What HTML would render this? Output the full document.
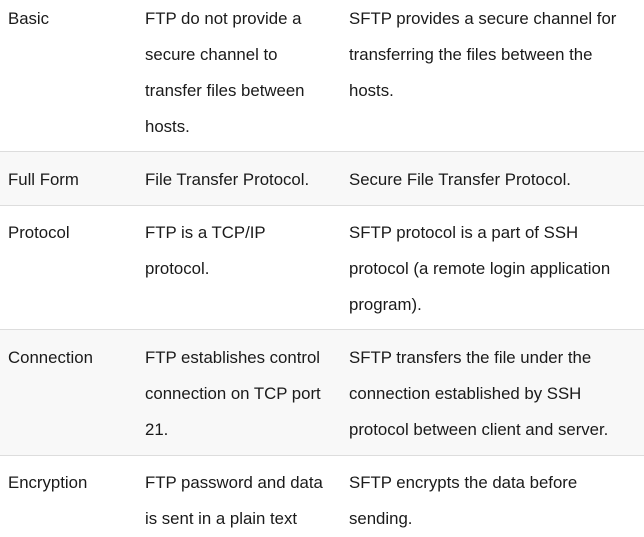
<!DOCTYPE html>
<html><head><meta charset="utf-8"><style>
body{margin:0;width:644px;height:529px;overflow:hidden;background:#fff;font-family:"Liberation Sans",sans-serif;font-size:16.8px;color:#1a1a1a;position:relative}
.row{position:absolute;left:0;width:644px}
.g{background:#f8f8f8}
.b{border-top:1px solid #ddd}
.c{position:absolute;line-height:36px;white-space:nowrap}
.c1{left:8px}.c2{left:145px}.c3{left:349px}
</style></head><body>
<div class="row" style="top:0;height:151px">
<div class="c c1" style="top:1px">Basic</div>
<div class="c c2" style="top:1px">FTP do not provide a<br>secure channel to<br>transfer files between<br>hosts.</div>
<div class="c c3" style="top:1px">SFTP provides a secure channel for<br>transferring the files between the<br>hosts.</div>
</div>
<div class="row g b" style="top:151px;height:54px">
<div class="c c1" style="top:10px">Full Form</div>
<div class="c c2" style="top:10px">File Transfer Protocol.</div>
<div class="c c3" style="top:10px">Secure File Transfer Protocol.</div>
</div>
<div class="row b" style="top:205px;height:124px">
<div class="c c1" style="top:9px">Protocol</div>
<div class="c c2" style="top:9px">FTP is a TCP/IP<br>protocol.</div>
<div class="c c3" style="top:9px">SFTP protocol is a part of SSH<br>protocol (a remote login application<br>program).</div>
</div>
<div class="row g b" style="top:329px;height:126px">
<div class="c c1" style="top:10px">Connection</div>
<div class="c c2" style="top:10px">FTP establishes control<br>connection on TCP port<br>21.</div>
<div class="c c3" style="top:10px">SFTP transfers the file under the<br>connection established by SSH<br>protocol between client and server.</div>
</div>
<div class="row b" style="top:455px;height:74px">
<div class="c c1" style="top:9px">Encryption</div>
<div class="c c2" style="top:9px">FTP password and data<br>is sent in a plain text</div>
<div class="c c3" style="top:9px">SFTP encrypts the data before<br>sending.</div>
</div>
</body></html>
